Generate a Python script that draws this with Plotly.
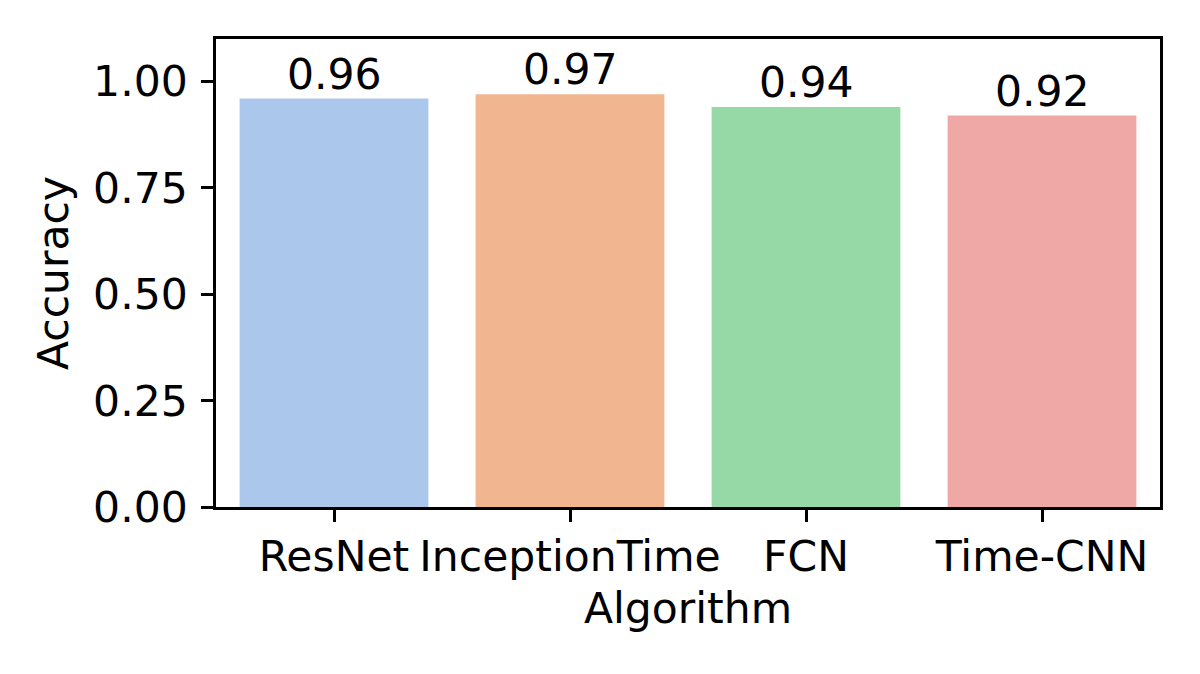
import plotly.graph_objects as go

algorithms = ["ResNet", "InceptionTime", "FCN", "Time-CNN"]
accuracy = [0.96, 0.97, 0.94, 0.92]
bar_colors = ["#abc8ec", "#f1b690", "#97d9a6", "#f0a8a6"]
y_ticks = [0.0, 0.25, 0.5, 0.75, 1.0]
y_tick_labels = ["0.00", "0.25", "0.50", "0.75", "1.00"]

FONT = "DejaVu Sans"
FS = 42.5

fig = go.Figure()
fig.add_trace(go.Bar(
    x=algorithms, y=accuracy, marker=dict(color=bar_colors, line=dict(width=0)),
    width=0.8, showlegend=False,
))
for a, v in zip(algorithms, accuracy):
    fig.add_annotation(x=a, y=v, text=f"{v:.2f}", showarrow=False,
                       yanchor="bottom", xanchor="center", yshift=-2,
                       font=dict(family=FONT, size=FS, color="black"))

fig.update_layout(
    width=1200, height=674,
    margin=dict(l=208, r=48, t=31, b=175),
    paper_bgcolor="white", plot_bgcolor="white",
    font=dict(family=FONT, size=FS, color="black"),
    xaxis=dict(
        title=dict(text="Algorithm", font=dict(family=FONT, size=FS), standoff=14),
        range=[-0.5, 3.5], showline=True, linecolor="black", linewidth=2.5, mirror=True,
        ticks="outside", ticklen=12, tickwidth=2.5, tickcolor="black", showgrid=False,
        tickfont=dict(family=FONT, size=FS), ticklabelstandoff=-2,
    ),
    yaxis=dict(
        title=dict(text="Accuracy", font=dict(family=FONT, size=FS), standoff=12),
        range=[0, 1.1], tickvals=y_ticks, ticktext=y_tick_labels,
        showline=True, linecolor="black", linewidth=2.5, mirror=True,
        ticks="outside", ticklen=12, tickwidth=2.5, tickcolor="black", showgrid=False,
        zeroline=False, tickfont=dict(family=FONT, size=FS), ticklabelstandoff=5,
    ),
)
fig.write_html("out.html")
